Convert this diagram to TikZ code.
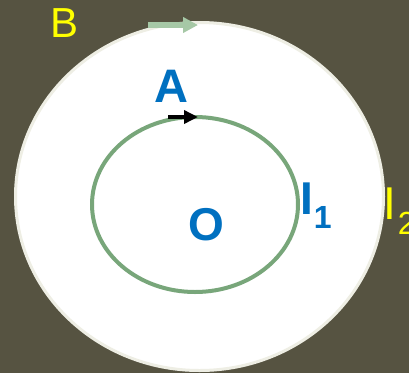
\documentclass[tikz,border=0pt]{standalone}
\usepackage{fontspec}
\setmainfont{Liberation Sans}
\usetikzlibrary{positioning, arrows.meta}
\definecolor{bgolive}{RGB}{86,83,65}
\definecolor{ringgrey}{RGB}{238,238,228}
\definecolor{loopgreen}{RGB}{120,166,122}
\definecolor{palegreen}{RGB}{166,200,166}
\definecolor{labelblue}{RGB}{0,112,192}
\definecolor{labelyellow}{RGB}{255,255,0}

\begin{document}
\begin{tikzpicture}[x=1pt, y=-1pt,
    letter/.style={inner sep=0pt, font=\fontsize{46}{46}\selectfont},
    subletter/.style={inner sep=0pt, font=\fontsize{32}{32}\selectfont},
    current/.style={line width=4.5pt, -{Triangle[length=14pt, width=13pt]}},
  ]
  \fill[bgolive] (0,0) rectangle (409,373);
  \useasboundingbox (0,0) rectangle (409,373);
  % the two loops
  \draw[ringgrey, fill=white, line width=3pt] (199.5,196.5) ellipse [x radius=184pt, y radius=174pt];
  \draw[loopgreen, line width=4pt] (195,204.5) ellipse [x radius=103pt, y radius=87.5pt];
  % arrows for the currents
  \coordinate (t1) at (148,25);
  \coordinate (h1) at (198,25);
  \coordinate (t2) at (168,117);
  \coordinate (h2) at (198,117);
  \draw[current, palegreen, line width=5.5pt, -{Triangle[length=15pt, width=15pt]}] (t1) -- (h1);
  \draw[current, black] (t2) -- (h2);
  % labels
  \node[letter, labelyellow, font=\fontsize{42}{42}\selectfont] (b) at (64.5,23) {B};
  \node[letter, labelblue, font=\fontsize{47}{47}\selectfont\bfseries] (a) at (171,86) {A};
  \node[letter, labelblue, font=\fontsize{46}{46}\selectfont\bfseries] (o) at (206,225) {O};
  \node[letter, labelblue, font=\fontsize{46}{46}\selectfont\bfseries] (i1) at (307,198.5) {I};
  \node[subletter, labelblue, font=\fontsize{32}{32}\selectfont\bfseries, below right=8pt and 0pt of i1.east] (s1) {1};
  \node[letter, labelyellow] (i2) at (390,203.5) {I};
  \node[subletter, labelyellow, below right=8pt and 1pt of i2.east] (s2) {2};
\end{tikzpicture}
\end{document}
